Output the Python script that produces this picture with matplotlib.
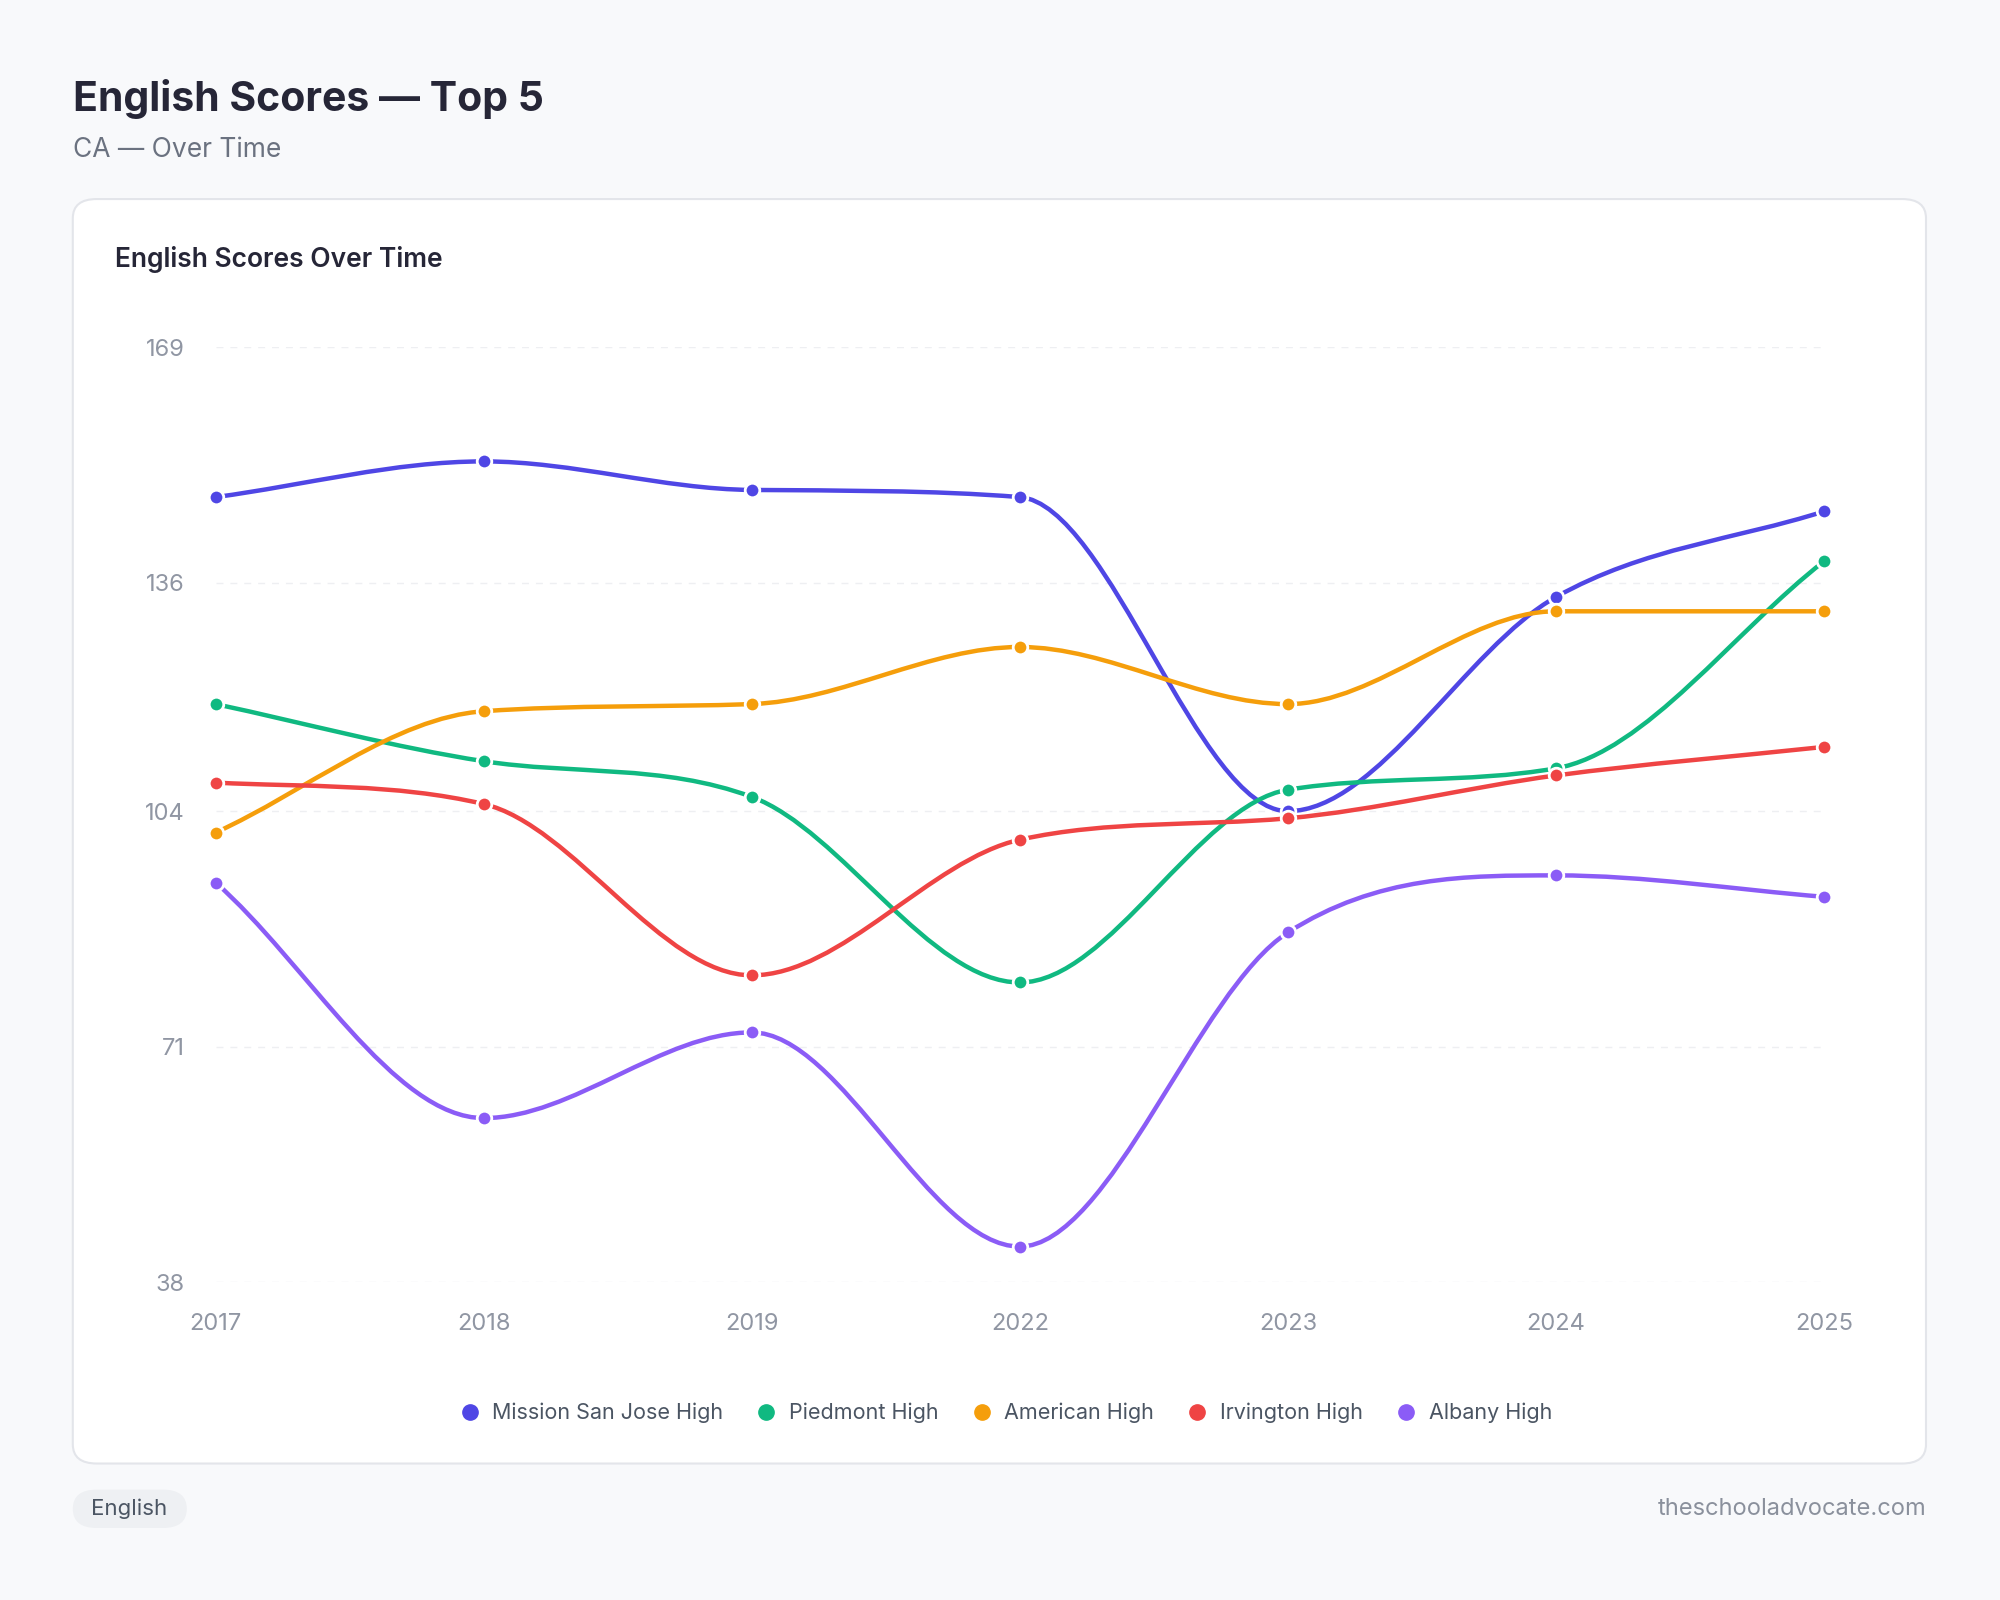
import numpy as np
import matplotlib.pyplot as plt
from matplotlib.patches import FancyBboxPatch
from matplotlib.path import Path
from matplotlib.patches import PathPatch

plt.rcParams['font.family'] = ['Inter', 'DejaVu Sans']

years = ['2017', '2018', '2019', '2022', '2023', '2024', '2025']
schools = ['Mission San Jose High', 'Piedmont High', 'American High', 'Irvington High', 'Albany High']
colors = ['#4f46e5', '#10b981', '#f59e0b', '#ef4444', '#8b5cf6']
mission = [148, 153, 149, 148, 104, 134, 146]
piedmont = [119, 111, 106, 80, 107, 110, 139]
american = [101, 118, 119, 127, 119, 132, 132]
irvington = [108, 105, 81, 100, 103, 109, 113]
albany = [94, 61, 73, 43, 87, 95, 92]
series = [mission, piedmont, american, irvington, albany]
yticks = [38, 71, 104, 136, 169]


def monotone_path(xs, ys):
    # monotone cubic (Fritsch-Carlson) as bezier segments, like Chart.js 'monotone'
    xs = np.asarray(xs, float)
    ys = np.asarray(ys, float)
    n = len(xs)
    dx = np.diff(xs)
    delta = np.diff(ys) / dx
    m = np.zeros(n)
    m[0], m[-1] = delta[0], delta[-1]
    for i in range(1, n - 1):
        if delta[i - 1] * delta[i] > 0:
            m[i] = (delta[i - 1] + delta[i]) / 2
    for i in range(n - 1):
        if delta[i] == 0:
            m[i] = m[i + 1] = 0
            continue
        a, b = m[i] / delta[i], m[i + 1] / delta[i]
        s = a * a + b * b
        if s > 9:
            tau = 3 / np.sqrt(s)
            m[i], m[i + 1] = tau * a * delta[i], tau * b * delta[i]
    verts = [(xs[0], ys[0])]
    codes = [Path.MOVETO]
    for i in range(n - 1):
        h = dx[i] / 3
        verts += [(xs[i] + h, ys[i] + m[i] * h), (xs[i + 1] - h, ys[i + 1] - m[i + 1] * h), (xs[i + 1], ys[i + 1])]
        codes += [Path.CURVE4] * 3
    return Path(verts, codes)


fig = plt.figure(figsize=(20, 16), dpi=100)
fig.patch.set_facecolor('#f8f9fb')

card = FancyBboxPatch((0.0364, 0.0853), 0.9266, 0.7903, boxstyle='round,pad=0,rounding_size=0.012',
                      transform=fig.transFigure, facecolor='white', edgecolor='#e3e5ea', linewidth=1.5,
                      zorder=-5)
fig.patches.append(card)

fig.text(0.0364, 0.938, 'English Scores — Top 5', fontsize=29.5, fontweight='bold', color='#262637', va='center')
fig.text(0.0364, 0.906, 'CA — Over Time', fontsize=19, color='#6b7280', va='center')
fig.text(0.0575, 0.838, 'English Scores Over Time', fontsize=19, fontweight='semibold', color='#262637', va='center')

ax = fig.add_axes([0.1078, 0.1986, 0.8042, 0.5844])
ax.set_zorder(5)
ax.patch.set_alpha(0)
ax.set_xlim(0, len(years) - 1)
ax.set_ylim(38, 169)
for y in yticks:
    ax.axhline(y, color='#eeeff2', linewidth=1, linestyle=(0, (5, 5)), zorder=0)
xs = np.arange(len(years))
for vals, col, name in zip(series, colors, schools):
    ax.add_patch(PathPatch(monotone_path(xs, vals), facecolor='none', edgecolor=col, linewidth=3.2,
                           zorder=2, clip_on=False))
    ax.scatter(xs, vals, s=110, color=col, edgecolor='white', linewidth=2, zorder=3, clip_on=False, label=name)
for s in ax.spines.values():
    s.set_visible(False)
ax.set_xticks(xs)
ax.set_xticklabels(years)
ax.set_yticks(yticks)
ax.tick_params(length=0, labelsize=17, colors='#9096a3', pad=22)
ax.tick_params(axis='y', pad=22)

handles = [plt.Line2D([], [], marker='o', linestyle='', color=c, markersize=11) for c in colors]
fig.legend(handles, schools, loc='center', bbox_to_anchor=(0.5, 0.117), ncol=5, frameon=False,
           fontsize=15.5, labelcolor='#4b5563', handletextpad=0.05, columnspacing=1.0)

tag = FancyBboxPatch((0.0364, 0.045), 0.057, 0.024, boxstyle='round,pad=0,rounding_size=0.012',
                     transform=fig.transFigure, facecolor='#eef0f3', edgecolor='none', zorder=-5)
fig.patches.append(tag)
fig.text(0.0648, 0.057, 'English', fontsize=16, color='#4b5563', ha='center', va='center')
fig.text(0.963, 0.057, 'theschooladvocate.com', fontsize=17, color='#8a909c', ha='right', va='center')

fig.savefig('out.png', dpi=100, facecolor=fig.get_facecolor())
